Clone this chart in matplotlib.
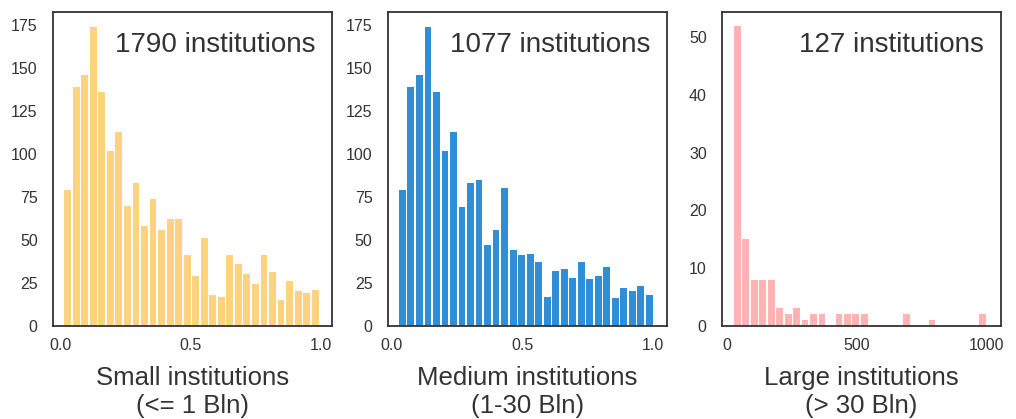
import numpy as np
import matplotlib
matplotlib.use("Agg")
import matplotlib.pyplot as plt

plt.rcParams['font.family'] = ['Liberation Sans', 'DejaVu Sans']

# ---- data ----
small_counts = [79, 139, 146, 174, 136, 102, 113, 70, 83, 58, 74, 56, 62, 62, 41,
                29, 51, 18, 17, 41, 36, 30, 24, 41, 31, 15, 26, 20, 19, 21]
small_range = (0.013, 0.993)

medium_counts = [79, 139, 146, 174, 136, 102, 113, 69, 83, 85, 47, 56, 80, 44, 41,
                 42, 37, 17, 32, 33, 28, 37, 27, 29, 34, 16, 22, 20, 23, 18]
medium_range = (0.024, 1.004)

large_counts = [52, 15, 8, 8, 8, 3, 2, 3, 1, 2, 2, 0, 2, 2, 2,
                2, 0, 0, 0, 0, 2, 0, 0, 1, 0, 0, 0, 0, 0, 2]
large_range = (24, 1002)

n_institutions = [1790, 1077, 127]
xlabels = ["Small institutions\n(<= 1 Bln)",
           "Medium institutions\n(1-30 Bln)",
           "Large institutions\n(> 30 Bln)"]
xticks = [[0.0, 0.5, 1.0], [0.0, 0.5, 1.0], [0, 500, 1000]]
xticklabels = [["0.0", "0.5", "1.0"], ["0.0", "0.5", "1.0"], ["0", "500", "1000"]]
yticks = [[0, 25, 50, 75, 100, 125, 150, 175],
          [0, 25, 50, 75, 100, 125, 150, 175],
          [0, 10, 20, 30, 40, 50]]

colors = ["#FFD27F", "#2F8ED6", "#FFB3B3"]
bar_fraction = 0.8

# ---- layout ----
fig = plt.figure(figsize=(10.16, 4.19), dpi=100)
fig.patch.set_facecolor("white")
lefts = [53 / 1016, 387.7 / 1016, 722 / 1016]
width = 279 / 1016
bottom = (419 - 325.7) / 419
height = 313.2 / 419
xlims = [(-0.0268, 1.041), (-0.016, 1.054), (-19, 1056)]
ylims = [(0, 182.4), (0, 182.4), (0, 54.3)]

all_counts = [small_counts, medium_counts, large_counts]
all_ranges = [small_range, medium_range, large_range]

for i in range(3):
    ax = fig.add_axes([lefts[i], bottom, width, height])
    counts = np.array(all_counts[i])
    edges = np.linspace(all_ranges[i][0], all_ranges[i][1], len(counts) + 1)
    centers = 0.5 * (edges[:-1] + edges[1:])
    ax.bar(centers, counts, width=np.diff(edges) * bar_fraction, align='center',
           color=colors[i], linewidth=0)
    ax.set_xlim(*xlims[i])
    ax.set_ylim(*ylims[i])
    ax.set_xticks(xticks[i])
    ax.set_xticklabels(xticklabels[i])
    ax.set_yticks(yticks[i])
    ax.tick_params(axis='both', length=0, labelsize=11.5, colors="#333333")
    ax.tick_params(axis='x', pad=9)
    ax.tick_params(axis='y', pad=11)
    for s in ax.spines.values():
        s.set_color("#333333")
        s.set_linewidth(1.3)
    ax.set_xlabel(xlabels[i], fontsize=18.5, color="#333333", labelpad=9,
                  linespacing=1.25)
    ax.text(0.94, 0.875, f"{n_institutions[i]} institutions", transform=ax.transAxes,
            ha='right', va='baseline', fontsize=20, color="#333333")

fig.savefig("out.png", dpi=100, facecolor="white")
